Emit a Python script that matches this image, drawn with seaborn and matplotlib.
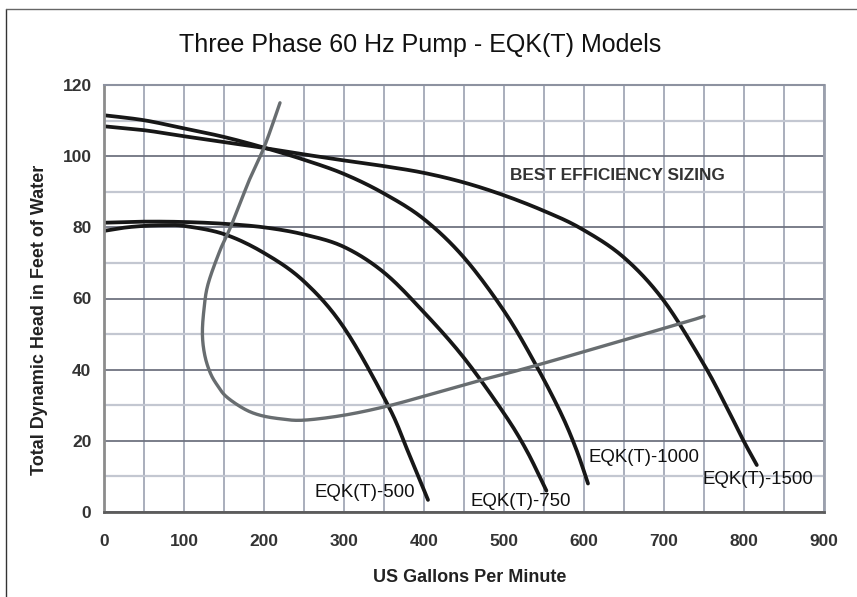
import matplotlib
matplotlib.use('Agg')
import matplotlib.pyplot as plt
from matplotlib.lines import Line2D
import numpy as np
import seaborn as sns

# Pump curves (gpm, feet of head)
gpm_500 = [0, 25, 50, 75, 100, 150, 200, 250, 300, 355, 380, 405]
head_500 = [79, 79.9, 80.4, 80.6, 80.4, 78.1, 72.8, 64.8, 51.8, 30, 17, 3.4]

gpm_750 = [0, 50, 100, 150, 200, 250, 300, 350, 400, 450, 500, 528, 553]
head_750 = [81.3, 81.6, 81.5, 81.0, 80.0, 78.0, 74.5, 67.3, 56.1, 43.3, 27.7, 17.4, 6.0]

gpm_1000 = [0, 50, 100, 150, 200, 250, 300, 350, 400, 450, 500, 537, 570, 590, 605]
head_1000 = [111.5, 110.1, 107.8, 105.4, 102.4, 99.0, 95.0, 89.5, 82.3, 71.5, 56.5, 42.5, 28.3, 17.8, 8.0]

gpm_1500 = [0, 50, 100, 150, 200, 250, 300, 350, 400, 450, 500, 550, 596, 649, 699, 749, 778, 799, 816]
head_1500 = [108.4, 107.3, 105.6, 104.0, 102.3, 100.5, 98.8, 97.2, 95.3, 92.6, 89.0, 84.6, 79.7, 71.7, 59.6, 41.8, 29.6, 20.2, 13.2]

# best efficiency line (drawn in order, not sorted)
gpm_best = [220, 201, 182, 160, 145, 130, 125, 123, 126, 133, 142, 153, 175, 195, 220, 249, 300, 355, 412, 472, 545, 718, 750]
head_best = [115, 103, 93.5, 81, 73.5, 64, 57, 50, 44, 39, 35.5, 32.4, 29, 27.2, 26.2, 25.8, 27.2, 29.8, 33.3, 37.1, 41.5, 52.8, 55]

models = ['EQK(T)-500', 'EQK(T)-750', 'EQK(T)-1000', 'EQK(T)-1500']
label_gpm = [326, 521, 675, 818]
label_head = [5.4, 2.9, 15.4, 9.0]


def smooth(xs, ys, n=16):
    # catmull-rom through the read points, like the smoothed lines of the original
    k = 4.45  # px per foot / px per gpm
    p = np.column_stack([xs, np.array(ys) * k])
    p = np.vstack([p[0], p, p[-1]])
    out = []
    for i in range(1, len(p) - 2):
        p0, p1, p2, p3 = p[i - 1], p[i], p[i + 1], p[i + 2]
        t = np.linspace(0, 1, n, endpoint=False)[:, None]
        out.append(0.5 * (2 * p1 + (-p0 + p2) * t + (2 * p0 - 5 * p1 + 4 * p2 - p3) * t ** 2
                          + (-p0 + 3 * p1 - 3 * p2 + p3) * t ** 3))
    out.append(p[-2][None, :])
    out = np.vstack(out)
    return out[:, 0], out[:, 1] / k


sns.set_style('white')
plt.rcParams['font.family'] = ['Liberation Sans', 'DejaVu Sans']

fig = plt.figure(figsize=(8.57, 5.97), dpi=100)
ax = fig.add_axes([104 / 857, 1 - 512 / 597, 720 / 857, 427 / 597])

curves = [(gpm_500, head_500), (gpm_750, head_750), (gpm_1000, head_1000), (gpm_1500, head_1500)]
for g, h in curves:
    sx, sy = smooth(g, h)
    sns.lineplot(x=sx, y=sy, ax=ax, color='#171717', linewidth=2.7, sort=False, estimator=None)
sx, sy = smooth(gpm_best, head_best)
sns.lineplot(x=sx, y=sy, ax=ax, color='#686d70', linewidth=2.4, sort=False, estimator=None)

for name, g, h in zip(models, label_gpm, label_head):
    ax.text(g, h, name, ha='center', va='center', fontsize=13.4, color='#111111')
ax.text(507, 94.7, 'BEST EFFICIENCY SIZING', ha='left', va='center', fontsize=12.4,
        fontweight='bold', color='#333333')

ax.set_xlim(0, 900)
ax.set_ylim(0, 120)
ax.set_xticks(range(0, 901, 100))
ax.set_xticks(range(50, 900, 100), minor=True)
ax.set_yticks(range(0, 121, 20))
ax.set_yticks(range(10, 120, 20), minor=True)
ax.set_axisbelow(True)
ax.grid(True, which='both', axis='x', color='#a3a8b6', linewidth=1.3)
ax.grid(True, which='major', axis='y', color='#6f7380', linewidth=1.3)
ax.grid(True, which='minor', axis='y', color='#c3c7d1', linewidth=1.6)

ax.tick_params(axis='both', which='minor', length=0)
ax.tick_params(axis='y', which='major', length=6, width=1, color='#888888', pad=3,
               labelsize=12.5, labelcolor='#333333')
ax.tick_params(axis='x', which='major', length=3, width=1, color='#aaaaaa', pad=13,
               labelsize=12.5, labelcolor='#333333')
for lab in ax.get_xticklabels() + ax.get_yticklabels():
    lab.set_fontweight('bold')

ax.spines['left'].set_color('#8c8c8c')
ax.spines['left'].set_linewidth(2)
ax.spines['bottom'].set_color('#5c5c5c')
ax.spines['bottom'].set_linewidth(2)
ax.spines['top'].set_color('#8d92a0')
ax.spines['top'].set_linewidth(1.5)
ax.spines['right'].set_color('#9ba0ad')
ax.spines['right'].set_linewidth(2)

ax.set_xlabel('US Gallons Per Minute', fontsize=13, fontweight='bold', color='#222222')
ax.set_ylabel('Total Dynamic Head in Feet of Water', fontsize=13, fontweight='bold', color='#222222')
ax.xaxis.set_label_coords(0.508, -0.133)
ax.yaxis.set_label_coords(-0.078, 0.45)

fig.text(0.49, 1 - 45 / 597, 'Three Phase 60 Hz Pump - EQK(T) Models', ha='center', va='center',
         fontsize=18, color='#111111')

# thin frame on the left and top of the figure
fig.add_artist(Line2D([6 / 857, 6 / 857], [0, 1 - 9 / 597], color='#333333', linewidth=1))
fig.add_artist(Line2D([6 / 857, 1], [1 - 9 / 597, 1 - 9 / 597], color='#666666', linewidth=1))

fig.savefig('out.png', dpi=100)
